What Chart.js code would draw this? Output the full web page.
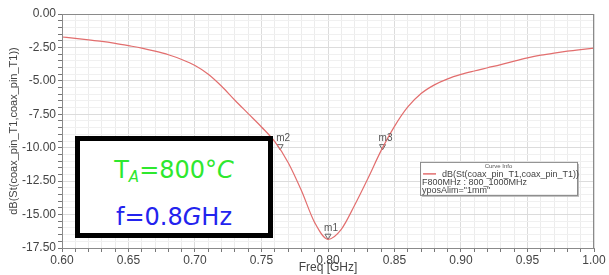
<!DOCTYPE html>
<html>
<head>
<meta charset="utf-8">
<script src="https://cdn.jsdelivr.net/npm/chart.js@4/dist/chart.umd.min.js"></script>
<style>
  html, body { margin: 0; padding: 0; background: #fff; }
  #wrap { position: relative; width: 609px; height: 275px; }
  #note {
    position: absolute; left: 75px; top: 136px; width: 188px; height: 92px;
    border: 5px solid #000; background: #fff;
    font-family: "DejaVu Sans", sans-serif; font-size: 24px; text-align: center;
  }
  #note .l1 { color: #2ee82e; margin-top: 14px; line-height: 30px; }
  #note .l2 { color: #2323ee; margin-top: 10px; line-height: 30px; }
  #note sub { font-size: 15px; font-style: italic; vertical-align: -4px; }
</style>
</head>
<body>
<div id="wrap">
  <canvas id="chart" width="609" height="275"></canvas>
  <div id="note">
    <div class="l1">T<sub>A</sub>=800°<i>C</i></div>
    <div class="l2">f=0.8<i>G</i>Hz</div>
  </div>
</div>
<script>
// data
const freqs = [0.60, 0.61, 0.62, 0.63, 0.64, 0.65, 0.66, 0.67, 0.68, 0.69,
               0.70, 0.71, 0.72, 0.73, 0.74, 0.75, 0.76, 0.77, 0.78, 0.79,
               0.80, 0.81, 0.82, 0.83, 0.84, 0.85, 0.86, 0.87, 0.88, 0.89,
               0.90, 0.91, 0.92, 0.93, 0.94, 0.95, 0.96, 0.97, 0.98, 0.99, 1.00];
const s11 = [-1.72, -1.82, -1.93, -2.05, -2.20, -2.37, -2.55, -2.78, -3.05, -3.40,
             -3.85, -4.50, -5.40, -6.45, -7.45, -8.45, -9.55, -11.10, -13.20, -15.60,
             -16.85, -16.10, -14.30, -12.30, -10.20, -8.40, -6.95, -5.95, -5.30, -4.85,
             -4.52, -4.26, -4.02, -3.78, -3.52, -3.28, -3.08, -2.92, -2.78, -2.66, -2.55];

const markerNames = ['m1', 'm2', 'm3'];
const markerFreq = [0.80, 0.764, 0.841];
const markerVal = [-16.6, -9.9, -9.9];

const xTicks = ['0.60', '0.65', '0.70', '0.75', '0.80', '0.85', '0.90', '0.95', '1.00'];
const yTicks = ['0.00', '-2.50', '-5.00', '-7.50', '-10.00', '-12.50', '-15.00', '-17.50'];

const curveColor = 'rgb(226,110,110)';

// frame round the plot
const framePlugin = {
  id: 'frame',
  afterDraw(chart) {
    const a = chart.chartArea, c = chart.ctx;
    c.save();
    c.strokeStyle = '#8a8a8a';
    c.lineWidth = 1;
    c.strokeRect(a.left + 0.5, a.top + 0.5, a.right - a.left - 1, a.bottom - a.top);
    c.restore();
  }
};

// marker labels m1 m2 m3
const markerLabels = {
  id: 'markerLabels',
  afterDatasetsDraw(chart) {
    const meta = chart.getDatasetMeta(1), c = chart.ctx;
    c.save();
    c.font = '10px "Liberation Sans", Arial, sans-serif';
    c.fillStyle = '#555';
    c.textAlign = 'center';
    meta.data.forEach((pt, i) => {
      c.fillText(markerNames[i], pt.x + 3, pt.y - 5);
    });
    c.restore();
  }
};

// "Curve Info" box
const curveInfo = {
  id: 'curveInfo',
  afterDraw(chart) {
    const a = chart.chartArea, c = chart.ctx;
    const w = a.right - a.left, h = a.bottom - a.top;
    const x = a.left + w * 0.673, y = a.top + h * 0.632;
    const bw = 157, bh = 33;
    c.save();
    c.fillStyle = '#bbb';
    c.fillRect(x + 2, y + 2, bw, bh);
    c.fillStyle = '#fff';
    c.fillRect(x, y, bw, bh);
    c.strokeStyle = '#888';
    c.lineWidth = 1;
    c.strokeRect(x + 0.5, y + 0.5, bw, bh);
    c.fillStyle = '#555';
    c.font = '6px "Liberation Sans", Arial, sans-serif';
    c.textAlign = 'center';
    c.fillText('Curve Info', x + bw / 2, y + 6);
    c.textAlign = 'left';
    c.font = '9px "Liberation Sans", Arial, sans-serif';
    c.fillStyle = '#444';
    c.fillText('dB(St(coax_pin_T1,coax_pin_T1))', x + 22, y + 15);
    c.fillText('F800MHz : 800_1000MHz', x + 2, y + 23);
    c.fillText('yposAlim="1mm"', x + 2, y + 31);
    c.strokeStyle = curveColor;
    c.lineWidth = 1.5;
    c.beginPath();
    c.moveTo(x + 3, y + 12);
    c.lineTo(x + 16, y + 12);
    c.stroke();
    c.restore();
  }
};

const font = { family: '"Liberation Sans", Arial, sans-serif', size: 12 };

new Chart(document.getElementById('chart').getContext('2d'), {
  type: 'line',
  data: {
    datasets: [{
      data: freqs.map((f, i) => ({ x: f, y: s11[i] })),
      borderColor: curveColor,
      borderWidth: 1.2,
      pointRadius: 0,
      cubicInterpolationMode: 'monotone',
      fill: false
    }, {
      data: markerFreq.map((f, i) => ({ x: f, y: markerVal[i] })),
      showLine: false,
      pointStyle: 'triangle',
      rotation: 180,
      pointRadius: 3.5,
      pointBackgroundColor: 'rgba(255,255,255,0)',
      pointBorderColor: '#666',
      pointBorderWidth: 1
    }]
  },
  options: {
    responsive: false,
    animation: false,
    events: [],
    layout: { padding: { top: 14, right: 15, left: 7, bottom: 0 } },
    plugins: { legend: { display: false }, tooltip: { enabled: false } },
    scales: {
      x: {
        type: 'linear', min: 0.6, max: 1.0,
        afterBuildTicks(scale) {
          const t = [];
          for (let i = 0; i <= 40; i++) t.push({ value: 0.6 + i * 0.01 });
          scale.ticks = t;
        },
        afterFit(scale) { scale.height = 27; },
        ticks: {
          autoSkip: false, maxRotation: 0, padding: 1,
          color: '#444', font: font,
          callback(v) {
            const k = Math.round(v * 100);
            return k % 5 === 0 ? xTicks[(k - 60) / 5] : '';
          }
        },
        grid: {
          color(ctx) {
            const k = Math.round(ctx.tick.value * 100);
            return k % 5 === 0 ? '#dcdcdc' : '#ececec';
          },
          tickLength: 4, tickColor: '#777', drawTicks: true
        },
        border: { color: '#8a8a8a' },
        title: {
          display: true, text: 'Freq [GHz]', color: '#444',
          font: { family: font.family, size: 12 }, padding: { top: -2, bottom: 0 }
        }
      },
      y: {
        type: 'linear', min: -17.5, max: 0,
        afterBuildTicks(scale) {
          const t = [];
          for (let i = 0; i <= 35; i++) t.push({ value: -17.5 + i * 0.5 });
          scale.ticks = t;
        },
        afterFit(scale) { scale.width = 55; },
        ticks: {
          autoSkip: false, padding: 2, color: '#444', font: font,
          callback(v) {
            const k = Math.round(-v * 10);
            return k % 25 === 0 ? yTicks[k / 25] : '';
          }
        },
        grid: {
          color(ctx) {
            const k = Math.round(-ctx.tick.value * 10);
            return k % 25 === 0 ? '#dcdcdc' : '#f0f0f0';
          },
          tickLength: 4, tickColor: '#777'
        },
        border: { color: '#8a8a8a' },
        title: {
          display: true, text: 'dB(St(coax_pin_T1,coax_pin_T1))', color: '#444',
          font: { family: font.family, size: 11 }, padding: 0
        }
      }
    }
  },
  plugins: [framePlugin, markerLabels, curveInfo]
});
</script>
</body>
</html>
